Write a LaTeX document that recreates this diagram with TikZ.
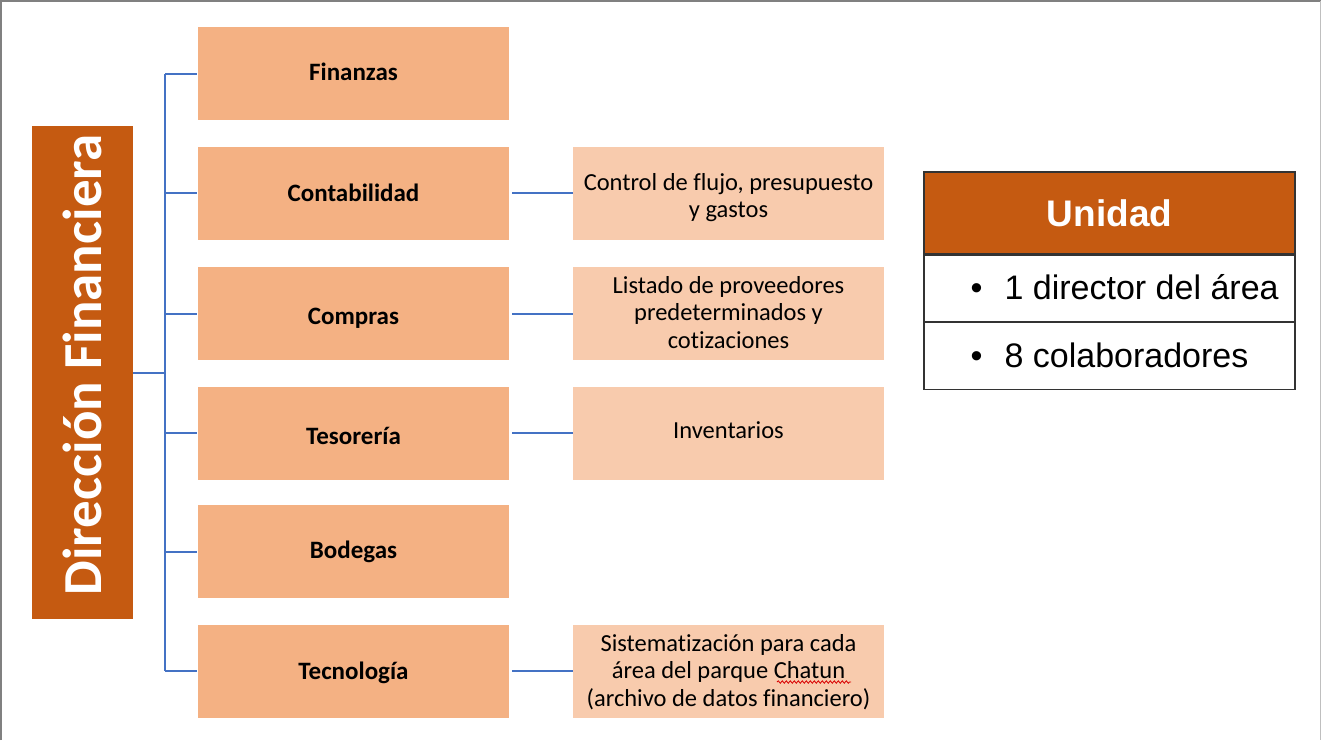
\documentclass[tikz,border=0pt]{standalone}
\usepackage{fontspec}
\setmainfont{Carlito}[Ligatures=NoCommon]
\newfontfamily\arialf{Liberation Sans}
\usetikzlibrary{decorations.pathmorphing}
\definecolor{darkor}{HTML}{C55A11}
\definecolor{midor}{HTML}{F4B183}
\definecolor{lightor}{HTML}{F8CBAD}
\definecolor{linkblue}{HTML}{4472C4}
\newcommand{\tightsp}{\spaceskip=0.226em\relax}
\tikzset{
  dirbox/.style={fill=darkor, text=white, minimum width=101pt, minimum height=493pt, inner sep=0pt,
     font=\fontsize{55}{60}\selectfont\bfseries},
  areabox/.style={fill=midor, minimum width=311pt, minimum height=93pt, inner sep=0pt,
     text depth=0pt, font=\fontsize{25}{28}\selectfont\bfseries},
  taskbox/.style={fill=lightor, minimum width=311pt, minimum height=93pt, inner sep=0pt,
     text width=309pt, align=center, font=\fontsize{24.5}{27.8}\selectfont},
  link/.style={draw=linkblue, line width=2pt},
  tabhead/.style={fill=darkor, draw=black!80, line width=1.2pt, minimum width=371pt, minimum height=82pt, inner sep=0pt,
     text=white, font=\arialf\fontsize{37}{42}\selectfont\bfseries},
  tabrow/.style={draw=black!80, line width=1.2pt, fill=white, minimum width=371pt, inner sep=0pt},
  rowtext/.style={anchor=west, inner sep=0pt, font=\arialf\fontsize{34}{40}\selectfont},
}
\begin{document}
\begin{tikzpicture}[x=1pt,y=-1pt]
\useasboundingbox (0,0) rectangle (1322,740);
\fill[white] (0,0) rectangle (1322,740);
\draw[black!50, line width=1.5pt] (1,740) -- (1,1) -- (1320.5,1);
\draw[black!25, line width=1.5pt] (1320.5,1) -- (1320.5,740);

% director box
\node[dirbox] (dir) at (82.5,372.5) {\rotatebox{90}{\hspace{15pt}Dirección Financiera}};

% area boxes
\node[areabox, text height=14pt] (fin) at (353.5,73.5) {Finanzas};
\node[areabox, text height=17pt] (con) at (353.5,193) {Contabilidad};
\node[areabox, text height=21pt] (com) at (353.5,313.5) {Compras};
\node[areabox, text height=22pt] (tes) at (353.5,433) {Tesorería};
\node[areabox, text height=13pt] (bod) at (353.5,551.5) {Bodegas};
\node[areabox, text height=16pt] (tec) at (353.5,671) {Tecnología};

% task boxes
\node[taskbox, text height=0pt, text depth=6pt] (tcon) at (728.5,193) {\tightsp Control de flujo, presupuesto\\\tightsp y gastos};
\node[taskbox, text height=0pt, text depth=41pt] (tcom) at (728.5,313.5) {\tightsp Listado de proveedores\\predeterminados y\\cotizaciones};
\node[taskbox, text height=11pt, text depth=0pt] (ttes) at (728.5,433) {\tightsp Inventarios};
\node[taskbox, text height=0pt, text depth=40pt] (ttec) at (728.5,671) {\tightsp Sistematización para cada\\área del parque Chatun\\(archivo de datos financiero)};

% trunk
\coordinate (trunkTop) at (165,73.5);
\coordinate (trunkBot) at (165,671);
\draw[link] (trunkTop) -- (trunkBot);
\draw[link] (dir.east) -- (dir.east -| trunkTop);
\foreach \b in {fin,con,com,tes,bod,tec}{
  \draw[link] (\b.west -| trunkTop) -- ([xshift=-1pt]\b.west);
}
\draw[link] ([xshift=3pt]con.east) -- (tcon.west);
\draw[link] ([xshift=3pt]com.east) -- (tcom.west);
\draw[link] ([xshift=3pt]tes.east) -- (ttes.west);
\draw[link] ([xshift=3pt]tec.east) -- (ttec.west);

% spell-check wavy underline
\draw[red!85!black, line width=0.8pt, decorate, decoration={snake, amplitude=1.2pt, segment length=4pt}]
  (777,682) -- (851,682);

% Unidad table
\node[tabhead] (uh) at (1109.5,213) {Unidad};
\node[tabrow, minimum height=66pt, anchor=north] (r1) at (uh.south) {};
\node[tabrow, minimum height=67pt, anchor=north] (r2) at (r1.south) {};
\node[rowtext] (t1) at ([xshift=47pt,yshift=1pt]r1.west) {\makebox[34pt][l]{\textbullet}1 director del área};
\node[rowtext] (t2) at ([xshift=47pt,yshift=1pt]r2.west) {\makebox[34pt][l]{\textbullet}8 colaboradores};
\end{tikzpicture}
\end{document}
